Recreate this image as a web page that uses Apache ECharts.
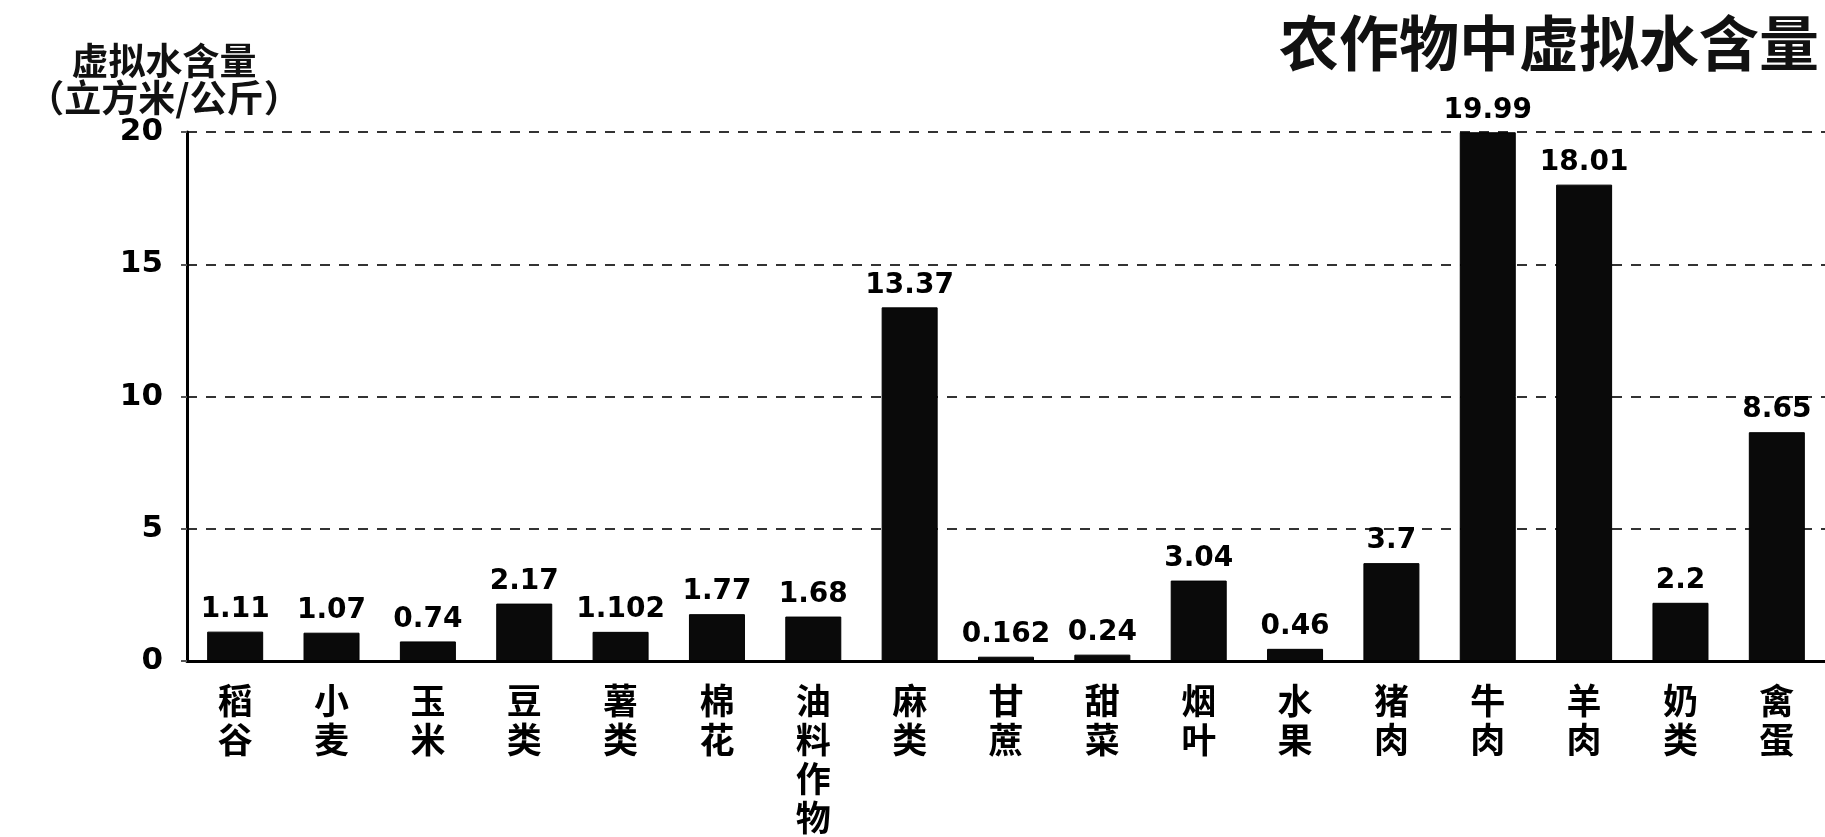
<!DOCTYPE html>
<html>
<head>
<meta charset="utf-8">
<script src="https://cdn.jsdelivr.net/npm/echarts@6/dist/echarts.min.js"></script>
<style>
html,body{margin:0;padding:0;background:#fff;}
#chart{width:1825px;height:837px;}
</style>
</head>
<body>
<div id="chart"></div>
<script>
const categories = ['稻谷','小麦','玉米','豆类','薯类','棉花','油料作物','麻类','甘蔗','甜菜','烟叶','水果','猪肉','牛肉','羊肉','奶类','禽蛋'];
const values = [1.11, 1.07, 0.74, 2.17, 1.102, 1.77, 1.68, 13.37, 0.162, 0.24, 3.04, 0.46, 3.7, 19.99, 18.01, 2.2, 8.65];
const labelTexts = ['1.11','1.07','0.74','2.17','1.102','1.77','1.68','13.37','0.162','0.24','3.04','0.46','3.7','19.99','18.01','2.2','8.65'];
const yTicks = [0, 5, 10, 15, 20];
const titleText = '农作物中虚拟水含量';
const yName = '虚拟水含量\n（立方米/公斤）';

const cjk = '"Noto Sans CJK SC", sans-serif';
const num = '"DejaVu Sans", "Liberation Sans", sans-serif';

const chart = echarts.init(document.getElementById('chart'));
chart.setOption({
  backgroundColor: '#ffffff',
  animation: false,
  title: {
    text: titleText,
    left: 1274,
    top: 8,
    textStyle: { fontFamily: cjk, fontSize: 60, fontWeight: 'bold', color: '#111' }
  },
  grid: { left: 187, right: 0, top: 132, bottom: 157, containLabel: false },
  xAxis: {
    type: 'category',
    data: categories,
    axisLine: { lineStyle: { color: '#000', width: 3 } },
    axisTick: { show: false },
    axisLabel: {
      interval: 0,
      margin: 20,
      color: '#000',
      fontFamily: cjk,
      fontSize: 35,
      fontWeight: 'bold',
      lineHeight: 39,
      formatter: v => v.split('').join('\n')
    }
  },
  yAxis: {
    type: 'value',
    min: yTicks[0],
    max: yTicks[yTicks.length - 1],
    interval: yTicks[1] - yTicks[0],
    name: yName,
    nameLocation: 'end',
    nameGap: 14,
    nameTextStyle: {
      fontFamily: cjk, fontSize: 37, fontWeight: 'bold', color: '#111',
      lineHeight: 37, align: 'center', padding: [0, 46, 0, 0]
    },
    axisLine: { show: true, lineStyle: { color: '#000', width: 3 } },
    axisTick: { show: true, length: 6, lineStyle: { color: '#555', width: 2 } },
    axisLabel: {
      color: '#000', fontFamily: num, fontSize: 31, fontWeight: 'bold', margin: 24
    },
    splitLine: { show: true, lineStyle: { color: '#333', width: 2, type: [10, 9] } }
  },
  series: [{
    type: 'bar',
    data: values,
    barWidth: 56,
    itemStyle: { color: '#0a0a0a', borderColor: '#000', borderWidth: 1 },
    label: {
      show: true,
      position: 'top',
      distance: 8,
      color: '#000',
      fontFamily: num,
      fontSize: 28,
      fontWeight: 'bold',
      formatter: p => labelTexts[p.dataIndex]
    }
  }]
});
</script>
</body>
</html>
